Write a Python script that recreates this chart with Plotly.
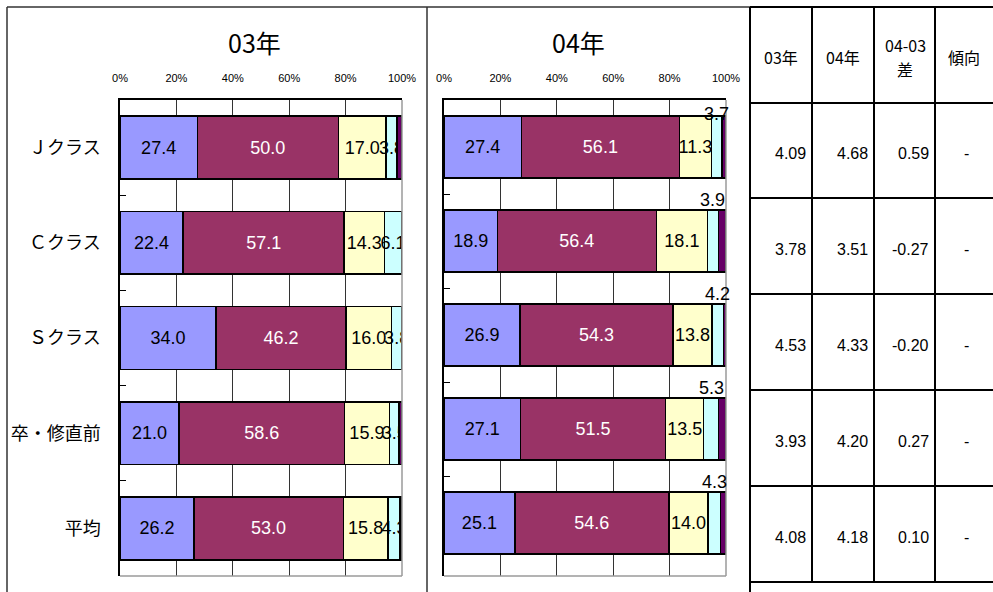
import plotly.graph_objects as go

# ---- data -------------------------------------------------------------
categories = ["Ｊクラス", "Ｃクラス", "Ｓクラス", "卒・修直前", "平均"]
years = ["03年", "04年"]

# 2003 shares (%) per satisfaction level, top level first
lv1_03 = [27.4, 22.4, 34.0, 21.0, 26.2]
lv2_03 = [50.0, 57.1, 46.2, 58.6, 53.0]
lv3_03 = [17.0, 14.3, 16.0, 15.9, 15.8]
lv4_03 = [3.8, 6.1, 3.8, 3.5, 4.3]
lv5_03 = [1.8, 0.1, 0.0, 1.0, 0.7]

# 2004 shares (%)
lv1_04 = [27.4, 18.9, 26.9, 27.1, 25.1]
lv2_04 = [56.1, 56.4, 54.3, 51.5, 54.6]
lv3_04 = [11.3, 18.1, 13.8, 13.5, 14.0]
lv4_04 = [3.7, 3.9, 4.2, 5.3, 4.3]
lv5_04 = [1.5, 2.7, 0.8, 2.6, 2.0]

# average scores shown in the table
score03 = [4.09, 3.78, 4.53, 3.93, 4.08]
score04 = [4.68, 3.51, 4.33, 4.20, 4.18]
trend = ["-", "-", "-", "-", "-"]
table_header = [["03年"], ["04年"], ["04-03", "差"], ["傾向"]]

x_ticks = [0, 20, 40, 60, 80, 100]

# ---- styling ----------------------------------------------------------
W, H = 993, 592
FONT = "Liberation Sans, Arial, Noto Sans CJK JP, sans-serif"
CJK = "Noto Sans CJK JP, sans-serif"
level_colors = ["#9999FF", "#993366", "#FFFFCC", "#CCFFFF", "#660066"]
level_text = ["black", "white", "black", "black", "black"]
BAR_FONT = 18


def fx(px):
    return px / W


def fy(py):
    return 1 - py / H


plot_top, plot_bottom = 100, 576
dom_y = [fy(plot_bottom), fy(plot_top)]
dom_x1 = [fx(120), fx(402)]
dom_x2 = [fx(444), fx(726)]

fig = go.Figure()

series03 = [lv1_03, lv2_03, lv3_03, lv4_03, lv5_03]
series04 = [lv1_04, lv2_04, lv3_04, lv4_04, lv5_04]

for k, vals in enumerate(series03):
    fig.add_trace(go.Bar(
        x=vals, y=categories, orientation="h", xaxis="x", yaxis="y",
        marker=dict(color=level_colors[k], line=dict(color="black", width=1.5)),
        text=[f"{v:.1f}" for v in vals] if k < 4 else None,
        textposition="inside" if k < 4 else "none",
        insidetextanchor="middle", textangle=0,
        textfont=dict(color=level_text[k], size=BAR_FONT, family=FONT),
        cliponaxis=True, showlegend=False, hoverinfo="skip",
    ))

for k, vals in enumerate(series04):
    fig.add_trace(go.Bar(
        x=vals, y=categories, orientation="h", xaxis="x2", yaxis="y2",
        marker=dict(color=level_colors[k], line=dict(color="black", width=1.5)),
        text=[f"{v:.1f}" for v in vals] if k < 3 else None,
        textposition="inside" if k < 3 else "none",
        insidetextanchor="middle", textangle=0,
        textfont=dict(color=level_text[k], size=BAR_FONT, family=FONT),
        cliponaxis=True, showlegend=False, hoverinfo="skip",
    ))

annotations = []
shapes = []


def label(x, y, text, size, family=FONT, xanchor="center", **kw):
    d = dict(x=x, y=y, text=text, showarrow=False, xanchor=xanchor,
             yanchor="middle", font=dict(size=size, color="black", family=family))
    d.update(kw)
    annotations.append(d)


# 2004 fourth-level labels sit just above their bar segment
for i, cat in enumerate(categories):
    left = lv1_04[i] + lv2_04[i] + lv3_04[i]
    label(left + lv4_04[i] / 2, cat, f"{lv4_04[i]:.1f}", BAR_FONT,
          xref="x2", yref="y2", yshift=33 if i == 0 else 41)

# panel titles
for title, cx in zip(years, [254, 578]):
    label(fx(cx), fy(42), title, 25, family=CJK, xref="paper", yref="paper")

# gray right/bottom frame of each plot area
for dx in (dom_x1, dom_x2):
    shapes.append(dict(type="line", xref="paper", yref="paper",
                       x0=dx[1], x1=dx[1], y0=dom_y[0], y1=dom_y[1],
                       line=dict(color="#9a9a9a", width=1.5)))
    shapes.append(dict(type="line", xref="paper", yref="paper",
                       x0=dx[0], x1=dx[1], y0=dom_y[0], y1=dom_y[0],
                       line=dict(color="#9a9a9a", width=1.5)))

# outer panel borders
border = dict(color="#333333", width=1.5)
shapes += [
    dict(type="line", xref="paper", yref="paper", x0=fx(7), x1=1, y0=fy(7), y1=fy(7), line=border),
    dict(type="line", xref="paper", yref="paper", x0=fx(7), x1=fx(7), y0=0, y1=fy(7), line=border),
    dict(type="line", xref="paper", yref="paper", x0=fx(427), x1=fx(427), y0=0, y1=fy(7), line=border),
]

# ---- score table ----------------------------------------------------
col_x = [750, 812, 874, 935, 1000]
row_y = [7, 103, 198, 294, 390, 486, 582]
tline = dict(color="black", width=2)
for cx in col_x[:-1]:
    shapes.append(dict(type="line", xref="paper", yref="paper",
                       x0=fx(cx), x1=fx(cx), y0=fy(row_y[-1]), y1=fy(row_y[0]), line=tline))
shapes.append(dict(type="line", xref="paper", yref="paper",
                   x0=fx(750), x1=fx(750), y0=0, y1=fy(row_y[-1]), line=tline))
for ry in row_y:
    shapes.append(dict(type="line", xref="paper", yref="paper",
                       x0=fx(750), x1=1, y0=fy(ry), y1=fy(ry), line=tline))

header_cx = [781, 843, 905, 964]
for j, lines in enumerate(table_header):
    n = len(lines)
    for m, line in enumerate(lines):
        cy = 57 + (m - (n - 1) / 2) * 24
        label(fx(header_cx[j]), fy(cy), line, 16, family=CJK, xref="paper", yref="paper")

for i in range(len(categories)):
    diff = score04[i] - score03[i]
    cells = [f"{score03[i]:.2f}", f"{score04[i]:.2f}", f"{diff:.2f}"]
    cy = fy((row_y[i + 1] + row_y[i + 2]) / 2 + 3)
    for j, txt in enumerate(cells):
        label(fx(col_x[j + 1] - 4), cy, txt, 16, xanchor="right",
              xref="paper", yref="paper")
    label(fx(966), cy, trend[i], 16, xref="paper", yref="paper")

xaxis_common = dict(
    range=[0, 100], tickvals=x_ticks, ticktext=[f"{t}%" for t in x_ticks],
    side="top", showgrid=True, gridcolor="#333333", gridwidth=1,
    showline=True, linecolor="black", linewidth=1.5, ticks="",
    tickfont=dict(size=11, color="black", family=FONT),
    ticklabelstandoff=12, zeroline=False, fixedrange=True, automargin=False,
)
yaxis_common = dict(
    categoryorder="array", categoryarray=categories, autorange="reversed",
    showline=True, linecolor="black", linewidth=1.5,
    ticks="inside", tickson="boundaries", ticklen=6, tickcolor="black",
    showgrid=False, zeroline=False, fixedrange=True, automargin=False,
)

fig.update_layout(
    width=W, height=H, margin=dict(l=0, r=0, t=0, b=0, pad=0),
    paper_bgcolor="white", plot_bgcolor="white",
    barmode="stack", bargap=0.34,
    uniformtext=dict(minsize=BAR_FONT, mode="show"),
    xaxis=dict(domain=dom_x1, anchor="y", **xaxis_common),
    xaxis2=dict(domain=dom_x2, anchor="y2", **xaxis_common),
    yaxis=dict(domain=dom_y, anchor="x", showticklabels=True,
               tickfont=dict(size=18, color="black", family=CJK),
               ticklabelstandoff=14, **yaxis_common),
    yaxis2=dict(domain=dom_y, anchor="x2", showticklabels=False, **yaxis_common),
    shapes=shapes, annotations=annotations,
    font=dict(family=FONT, color="black"),
)

fig.write_html("out.html")
